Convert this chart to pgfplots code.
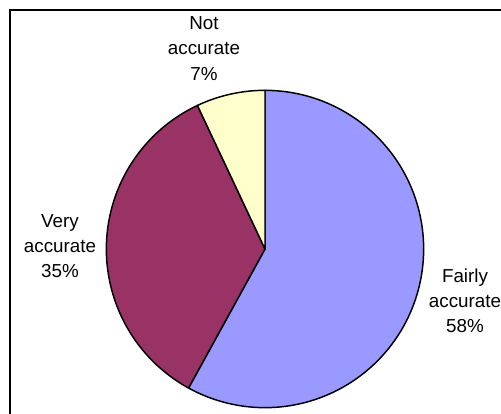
\documentclass[border=0pt]{standalone}
\usepackage{pgfplots}
\pgfplotsset{compat=1.18}
\usepackage{pgfplotstable}
\usepgfplotslibrary{polar}
\usepackage{fontspec}
\setmainfont{Liberation Sans}

\definecolor{fairly}{HTML}{9999FF}
\definecolor{very}{HTML}{993366}
\definecolor{notacc}{HTML}{FFFFCC}

% Share of answers per category (percent)
\pgfplotstableread{
label value
Fairly 58
Very 35
Not 7
}\piedata

\begin{document}
\begin{tikzpicture}
\pgfplotstablegetelem{0}{value}\of\piedata \let\vFair\pgfplotsretval
\pgfplotstablegetelem{1}{value}\of\piedata \let\vVery\pgfplotsretval
\pgfplotstablegetelem{2}{value}\of\piedata \let\vNot\pgfplotsretval
% slices run clockwise from twelve o'clock
\pgfmathsetmacro\aStart{90}
\pgfmathsetmacro\aFair{\aStart-3.6*\vFair}
\pgfmathsetmacro\aVery{\aFair-3.6*\vVery}
\pgfmathsetmacro\aNot{\aVery-3.6*\vNot}
\useasboundingbox (0,0) rectangle (375.75pt,-310.5pt);
\clip (0,0) rectangle (375.75pt,-310.5pt);
\begin{polaraxis}[
  at={(198.75pt,-186.75pt)}, anchor=center,
  scale only axis, width=238pt, height=238pt,
  ymin=0, ymax=1, hide axis, clip=false,
  samples=180,
]
\addplot[draw=black, line width=1.1pt, line join=round, mark=none, fill=fairly, domain=\aFair:\aStart] {1} -- (axis cs:0,0) -- cycle;
\addplot[draw=black, line width=1.1pt, line join=round, mark=none, fill=very, domain=\aVery:\aFair] {1} -- (axis cs:0,0) -- cycle;
\addplot[draw=black, line width=1.1pt, line join=round, mark=none, fill=notacc, domain=\aNot:\aVery] {1} -- (axis cs:0,0) -- cycle;
\end{polaraxis}
\begin{scope}[x=0.75pt, y=-0.75pt,
  every node/.style={anchor=base, inner sep=0pt, font=\fontsize{14.1pt}{17pt}\selectfont}]
\draw[line width=1.5pt] (10,10) rectangle (560,460);
\node at (204,30) {Not};
\node at (204,55) {accurate};
\node at (204,80) {7\%};
\node at (60,227) {Very};
\node at (60,252) {accurate};
\node at (60,277) {35\%};
\node at (465,282) {Fairly};
\node at (465,307) {accurate};
\node at (465,332) {58\%};
\end{scope}
\end{tikzpicture}
\end{document}
